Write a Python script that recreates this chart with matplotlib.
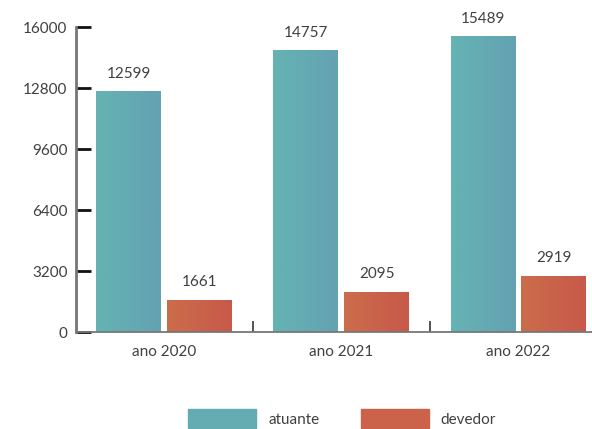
import matplotlib
matplotlib.use('Agg')
import matplotlib.pyplot as plt
import numpy as np
from matplotlib.patches import Patch

plt.rcParams['font.family'] = ['Lato', 'DejaVu Sans']

# data
years = ['ano 2020', 'ano 2021', 'ano 2022']
atuante = [12599, 14757, 15489]
devedor = [1661, 2095, 2919]
yticks = [0, 3200, 6400, 9600, 12800, 16000]

teal_l, teal_r = '#64B3B2', '#65A2B2'
oran_l, oran_r = '#CB6D4A', '#C8594A'
txt = '#404040'

fig = plt.figure(figsize=(5.92, 4.29), dpi=100)
ax = fig.add_axes([0.128, 0.226, 0.872, 0.711])

x = np.arange(len(years))
w = 0.367
b1 = ax.bar(x - 0.2, atuante, w, color=teal_l)
b2 = ax.bar(x + 0.2, devedor, w, color=oran_l)

def grad(bars, c1, c2):
    cm = matplotlib.colors.LinearSegmentedColormap.from_list('g', [c1, c2])
    g = np.linspace(0, 1, 64).reshape(1, -1)
    for b in bars:
        x0, y0 = b.get_x(), b.get_y()
        ax.imshow(g, cmap=cm, aspect='auto', zorder=2,
                  extent=[x0, x0 + b.get_width(), y0, y0 + b.get_height()])

grad(b1, teal_l, teal_r)
grad(b2, oran_l, oran_r)

for bars, vals in [(b1, atuante), (b2, devedor)]:
    for b, v in zip(bars, vals):
        ax.annotate(str(v), (b.get_x() + b.get_width() / 2, v),
                    xytext=(0, 8), textcoords='offset points',
                    ha='center', va='bottom', fontsize=11, color=txt)

ax.set_xlim(-0.5, 2.415)
ax.set_ylim(0, 16000)
ax.set_yticks(yticks)
ax.set_xticks(x)
ax.set_xticklabels(years)
ax.set_xticks([0.5, 1.5], minor=True)

ax.tick_params(axis='y', direction='in', length=11, width=2, color='#111111',
               labelsize=11, labelcolor=txt, pad=6)
ax.tick_params(axis='x', which='major', length=0, labelsize=11,
               labelcolor=txt, pad=9)
ax.tick_params(axis='x', which='minor', direction='in', length=8, width=1.3,
               color='#444444')

for s in ['top', 'right']:
    ax.spines[s].set_visible(False)
ax.spines['left'].set_color('#777777')
ax.spines['left'].set_linewidth(2)
ax.spines['bottom'].set_color('#777777')
ax.spines['bottom'].set_linewidth(1.3)

# legend
handles = [Patch(color='#65ABB2'), Patch(color='#CA634A')]
fig.legend(handles, ['atuante', 'devedor'], loc='lower left',
           bbox_to_anchor=(188 / 592, 1 / 429), ncol=2, frameon=False,
           borderpad=0, borderaxespad=0,
           handlelength=4.45, handleheight=1.5, handletextpad=0.8,
           columnspacing=2.7, fontsize=11, labelcolor=txt)

fig.savefig('out.png', dpi=100)
